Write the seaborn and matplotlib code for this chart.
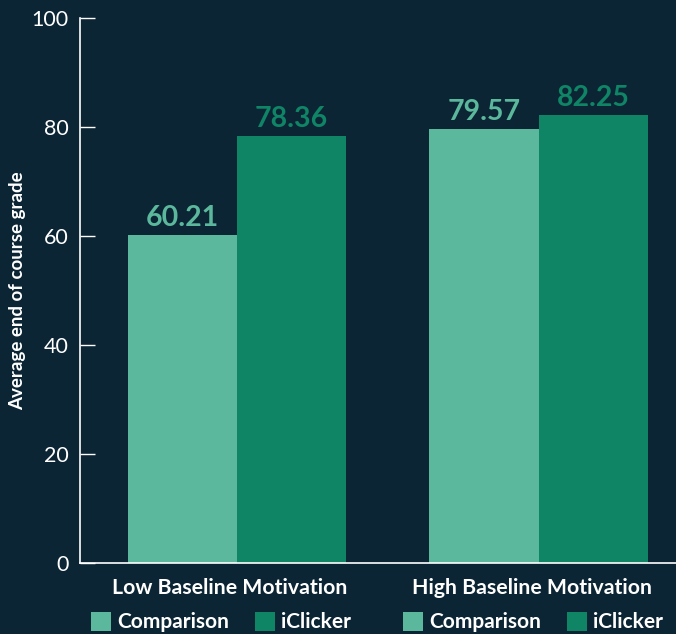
import matplotlib
matplotlib.use("Agg")
import matplotlib.pyplot as plt
import matplotlib.patches as mpatches
import matplotlib.transforms as mtransforms
import seaborn as sns
import pandas as pd

groups = ["Low Baseline Motivation", "High Baseline Motivation"]
conditions = ["Comparison", "iClicker"]
comparison_vals = [60.21, 79.57]
iclicker_vals = [78.36, 82.25]
yticks = [0, 20, 40, 60, 80, 100]

BG = "#0b2535"
LIGHT = "#5cb89c"
DARK = "#0f8566"
FG = "white"

df = pd.DataFrame({
    "group": groups * 2,
    "condition": [conditions[0]] * 2 + [conditions[1]] * 2,
    "value": comparison_vals + iclicker_vals,
})

sns.set_theme(style="white")
plt.rcParams["font.family"] = ["Lato", "DejaVu Sans"]

fig = plt.figure(figsize=(6.76, 6.34), dpi=100, facecolor=BG)
ax = fig.add_axes([80 / 676, 71 / 634, 596 / 676, 545 / 634])
ax.set_facecolor(BG)

sns.barplot(data=df, x="group", y="value", hue="condition", order=groups,
            hue_order=conditions, palette=[LIGHT, DARK], saturation=1,
            width=0.725, dodge=True, ax=ax, legend=False, errorbar=None,
            linewidth=0, edgecolor="none")

for cont, col in zip(ax.containers, [LIGHT, DARK]):
    ax.bar_label(cont, labels=[f"{v:.2f}" for v in cont.datavalues],
                 color=col, fontsize=20.5, fontweight="bold", padding=3)

ax.set_xlim(-0.52, 1.454)
ax.set_ylim(0, 100)
ax.set_yticks(yticks)
ax.set_yticklabels([str(t) for t in yticks])
ax.tick_params(axis="y", direction="in", length=11, width=1, color=FG,
               labelcolor=FG, labelsize=15.5, pad=8, left=True)
ax.tick_params(axis="x", length=0, labelcolor=FG, labelsize=15.3, pad=11)
shift = mtransforms.ScaledTranslation(-7 / 100, 0, fig.dpi_scale_trans)
for lab in ax.get_xticklabels():
    lab.set_fontweight("bold")
    lab.set_transform(lab.get_transform() + shift)

for s in ["top", "right"]:
    ax.spines[s].set_visible(False)
for s in ["left", "bottom"]:
    ax.spines[s].set_color(FG)
    ax.spines[s].set_linewidth(1.2)

ax.set_xlabel("")
ax.set_ylabel("Average end of course grade", color=FG, fontsize=13.5,
              fontweight="bold", labelpad=4)

handles = [mpatches.Patch(facecolor=LIGHT, edgecolor="none", label=conditions[0]),
           mpatches.Patch(facecolor=DARK, edgecolor="none", label=conditions[1])]
trans = mtransforms.blended_transform_factory(fig.transFigure, fig.transFigure)
legend_centers = [221 / 676, 533 / 676]
for i, cx in enumerate(legend_centers):
    leg = ax.legend(handles=handles, ncol=2, loc="center",
                    bbox_to_anchor=(cx, 12 / 634), bbox_transform=trans,
                    frameon=False, fontsize=15, handlelength=0.95,
                    handleheight=1.05, handletextpad=0.3, columnspacing=1.25,
                    borderaxespad=0, borderpad=0)
    for t in leg.get_texts():
        t.set_color(FG)
        t.set_fontweight("bold")
    if i < len(legend_centers) - 1:
        ax.add_artist(leg)

fig.savefig("out.png", dpi=100, facecolor=BG)
